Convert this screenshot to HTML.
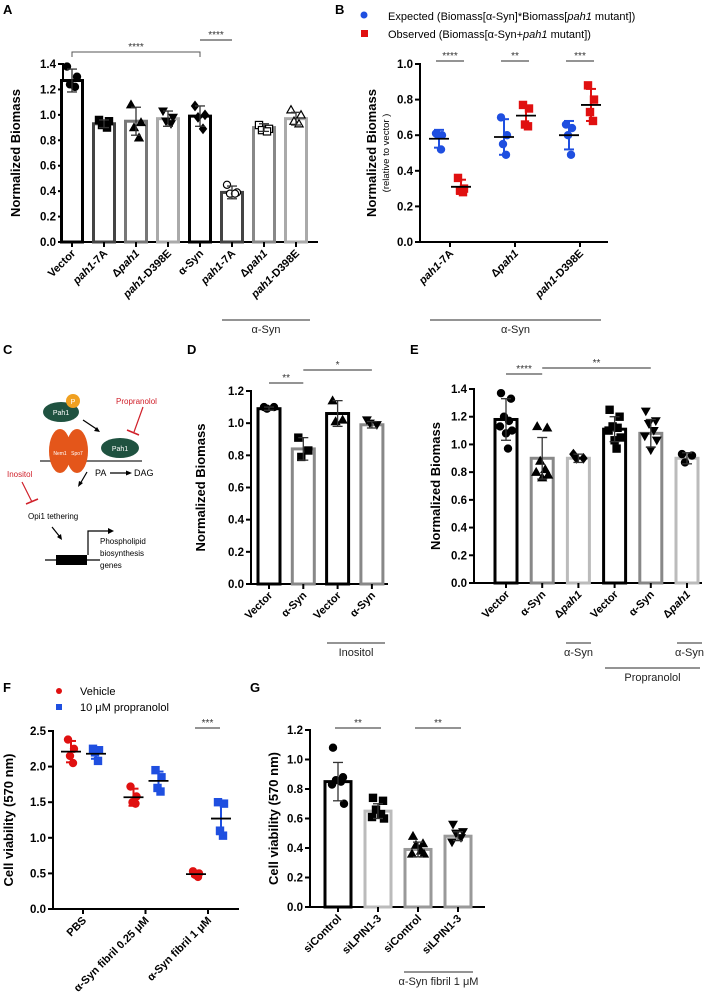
<!DOCTYPE html>
<html><head><meta charset="utf-8">
<style>
html,body{margin:0;padding:0;background:#fff;}
svg{display:block;font-family:"Liberation Sans",Arial,sans-serif;}
.lab{font-weight:bold;font-size:13px;}
.tick{font-weight:bold;font-size:11.5px;}
.ytitle{font-weight:bold;font-size:13px;}
.xl{font-weight:bold;font-size:11px;}
.grp{font-size:11px;fill:#222;}
.sig{font-size:10px;fill:#333;}
</style></head>
<body>
<svg id="fig" width="714" height="1005" viewBox="0 0 714 1005"></svg>
<script>
// ===== Panel A data =====
const aCats=["Vector","pah1-7A","Δpah1","pah1-D398E","α-Syn","pah1-7A","Δpah1","pah1-D398E"];
const aMeans=[1.27,0.93,0.95,0.97,0.99,0.39,0.90,0.97];
const aSds=[0.09,0.03,0.11,0.06,0.08,0.05,0.03,0.05];
const aPts=[[1.38,1.30,1.24,1.22],[0.96,0.95,0.92,0.90],[1.08,0.94,0.90,0.82],[1.03,0.98,0.95,0.93],[1.07,1.00,0.98,0.89],[0.45,0.39,0.38,0.38],[0.92,0.89,0.88,0.87],[1.04,1.00,0.95,0.93]];
const aTicks=[0,0.2,0.4,0.6,0.8,1.0,1.2,1.4];
// ===== Panel B data =====
const bCats=["pah1-7A","Δpah1","pah1-D398E"];
const bExpMean=[0.58,0.59,0.60];
const bExpSd=[0.05,0.10,0.08];
const bExpPts=[[0.61,0.60,0.60,0.52],[0.70,0.60,0.55,0.49],[0.66,0.64,0.60,0.49]];
const bObsMean=[0.31,0.71,0.77];
const bObsSd=[0.04,0.05,0.09];
const bObsPts=[[0.36,0.30,0.29,0.28],[0.77,0.75,0.66,0.65],[0.88,0.80,0.73,0.68]];
const bTicks=[0,0.2,0.4,0.6,0.8,1.0];
// ===== Panel D data =====
const dCats=["Vector","α-Syn","Vector","α-Syn"];
const dMeans=[1.09,0.84,1.06,0.99];
const dSds=[0.01,0.07,0.08,0.02];
const dPts=[[1.10,1.10,1.09],[0.91,0.83,0.79],[1.14,1.02,1.01],[1.02,0.99,1.00]];
const dTicks=[0,0.2,0.4,0.6,0.8,1.0,1.2];
// ===== Panel E data =====
const eCats=["Vector","α-Syn","Δpah1","Vector","α-Syn","Δpah1"];
const eMeans=[1.18,0.90,0.90,1.11,1.08,0.90];
const eSds=[0.15,0.15,0.03,0.09,0.10,0.04];
const ePts=[[1.37,1.33,1.20,1.17,1.13,1.10,1.08,0.97],[1.13,1.12,0.88,0.82,0.80,0.78,0.76],[0.93,0.90,0.90],[1.25,1.20,1.13,1.12,1.10,1.05,1.03,0.97],[1.24,1.17,1.15,1.10,1.06,1.03,0.96],[0.93,0.92,0.87]];
const eTicks=[0,0.2,0.4,0.6,0.8,1.0,1.2,1.4];
// ===== Panel F data =====
const fCats=["PBS","α-Syn fibril 0.25 μM","α-Syn fibril 1 μM"];
const fVehMean=[2.21,1.57,0.49];
const fVehSd=[0.15,0.12,0.03];
const fVehPts=[[2.38,2.25,2.15,2.05],[1.72,1.58,1.50,1.48],[0.53,0.50,0.48,0.45]];
const fProMean=[2.18,1.80,1.27];
const fProSd=[0.07,0.13,0.22];
const fProPts=[[2.25,2.23,2.20,2.08],[1.95,1.85,1.70,1.65],[1.50,1.48,1.10,1.03]];
const fTicks=[0,0.5,1.0,1.5,2.0,2.5];
// ===== Panel G data =====
const gCats=["siControl","siLPIN1-3","siControl","siLPIN1-3"];
const gMeans=[0.85,0.65,0.39,0.48];
const gSds=[0.13,0.05,0.05,0.03];
const gPts=[[1.08,0.88,0.86,0.85,0.83,0.70],[0.74,0.72,0.66,0.63,0.61,0.60],[0.48,0.43,0.42,0.38,0.36,0.36],[0.56,0.51,0.50,0.47,0.44]];
const gTicks=[0,0.2,0.4,0.6,0.8,1.0,1.2];

const NS="http://www.w3.org/2000/svg";
const svg=document.getElementById('fig');
function mk(tag,attrs,parent,txt){const e=document.createElementNS(NS,tag);for(const k in attrs)e.setAttribute(k,attrs[k]);if(txt!==undefined)e.textContent=txt;(parent||svg).appendChild(e);return e;}
function grp(name){const g=mk('g',{});


return g;}

function marker(g,shape,x,y,color){
  const s=3.6;let e;
  const fill=shape.startsWith('open')?'#fff':color;
  if(shape==='circle'||shape==='open-circle') e=mk('circle',{cx:x,cy:y,r:s,fill:fill,stroke:color,'stroke-width':1.2},g);
  else if(shape==='square'||shape==='open-square') e=mk('rect',{x:x-s,y:y-s,width:2*s,height:2*s,fill:fill,stroke:color,'stroke-width':1.2},g);
  else if(shape==='up'||shape==='open-up') e=mk('polygon',{points:`${x},${y-s-0.5} ${x-s-0.5},${y+s-0.5} ${x+s+0.5},${y+s-0.5}`,fill:fill,stroke:color,'stroke-width':1.2},g);
  else if(shape==='down') e=mk('polygon',{points:`${x},${y+s+0.5} ${x-s-0.5},${y-s+0.5} ${x+s+0.5},${y-s+0.5}`,fill:fill,stroke:color,'stroke-width':1},g);
  else if(shape==='diamond') e=mk('polygon',{points:`${x},${y-s-1} ${x-s},${y} ${x},${y+s+1} ${x+s},${y}`,fill:fill,stroke:color,'stroke-width':1},g);
  
  
}
const jit=[-5,5,-2,3,-6,6,0,2];

function axes(g,ax){
  const yS=v=>ax.y0-v/ax.max*(ax.y0-ax.yTop);
  mk('line',{x1:ax.x0,y1:ax.yTop-1,x2:ax.x0,y2:ax.y0+1,stroke:'#000','stroke-width':2},g);
  mk('line',{x1:ax.x0-1,y1:ax.y0,x2:ax.xEnd,y2:ax.y0,stroke:'#000','stroke-width':2},g);
  ax.ticks.forEach(t=>{const y=yS(t);
    mk('line',{x1:ax.x0-5,y1:y,x2:ax.x0,y2:y,stroke:'#000','stroke-width':2},g);
    const tl=mk('text',{x:ax.x0-7,y:y+4,'text-anchor':'end',class:'tick'},g,t.toFixed(ax.dec));
    
    
  });
  if(ax.title){
  const tt=mk('text',{x:0,y:0,'text-anchor':'middle',class:'ytitle',transform:`translate(${ax.titleX},${(ax.y0+ax.yTop)/2}) rotate(-90)`},g,ax.title);
  
  
  }
  return yS;
}
function xlabels(g,ax,cats,xs,italic){
  cats.forEach((c,i)=>{
    mk('line',{x1:xs[i],y1:ax.y0,x2:xs[i],y2:ax.y0+5,stroke:'#000','stroke-width':2},g);
    const t=mk('text',{x:0,y:0,'text-anchor':'end',class:'xl',transform:`translate(${xs[i]+4},${ax.y0+12}) rotate(-45)`},g);
    if(italic&&italic[i]){
      const m=c.match(/^(Δ?)(pah1)(.*)$/);
      mk('tspan',{},t,m[1]);mk('tspan',{'font-style':'italic'},t,m[2]);mk('tspan',{},t,m[3]);
    } else t.textContent=c;
    
    
  });
}
function barchart(g,ax,cats,means,sds,pts,colors,shapes,italic){
  const yS=axes(g,ax);
  const xs=cats.map((c,i)=>ax.c0+i*ax.step);
  cats.forEach((c,i)=>{
    const x=xs[i],bw=ax.bw;
    const b=mk('rect',{x:x-bw/2,y:yS(means[i]),width:bw,height:ax.y0-yS(means[i]),fill:'#fff',stroke:colors[i],'stroke-width':3},g);
    
    
    pts[i].forEach((p,j)=>marker(g,shapes[i],x+jit[j%jit.length],yS(p),'#000'));
    const ec='#333';
    const yh=yS(means[i]+sds[i]),yl=yS(means[i]-sds[i]);
    mk('line',{x1:x,y1:yh,x2:x,y2:yl,stroke:ec,'stroke-width':1.3},g);
    mk('line',{x1:x-5,y1:yh,x2:x+5,y2:yh,stroke:ec,'stroke-width':1.3},g);
    mk('line',{x1:x-5,y1:yl,x2:x+5,y2:yl,stroke:ec,'stroke-width':1.3},g);
  });
  xlabels(g,ax,cats,xs,italic);
  return xs;
}
function scatter(g,ax,cats,sets,offs){
  const yS=axes(g,ax);
  const xs=cats.map((c,i)=>ax.c0+i*ax.step);
  sets.forEach((s,k)=>{
    cats.forEach((c,i)=>{
      const x=xs[i]+offs[k];
      s.pts[i].forEach((p,j)=>marker(g,s.shape,x+[-3,3,-1,2][j%4],yS(p),s.color));
      const yh=yS(s.mean[i]+s.sd[i]),yl=yS(s.mean[i]-s.sd[i]),ym=yS(s.mean[i]);
      mk('line',{x1:x,y1:yh,x2:x,y2:yl,stroke:s.color,'stroke-width':2},g);
      mk('line',{x1:x-5,y1:yh,x2:x+5,y2:yh,stroke:s.color,'stroke-width':2},g);
      mk('line',{x1:x-5,y1:yl,x2:x+5,y2:yl,stroke:s.color,'stroke-width':2},g);
      mk('line',{x1:x-10,y1:ym,x2:x+10,y2:ym,stroke:'#000','stroke-width':1.8},g);
    });
  });
  return xs;
}
function sig(g,x1,x2,y,txt,drop){
  if(drop){mk('path',{d:`M${x1},${y+drop} V${y} H${x2} V${y+drop}`,fill:'none',stroke:'#555','stroke-width':1},g);}
  else mk('line',{x1:x1,y1:y,x2:x2,y2:y,stroke:'#555','stroke-width':1.2},g);
  const t=mk('text',{x:(x1+x2)/2,y:y-2,'text-anchor':'middle',class:'sig'},g,txt);
  
  
}
function groupline(g,x1,x2,y,txt){
  mk('line',{x1:x1,y1:y,x2:x2,y2:y,stroke:'#555','stroke-width':1.2},g);
  const t=mk('text',{x:(x1+x2)/2,y:y+13,'text-anchor':'middle',class:'grp'},g,txt);
  
  
}
function panelLabel(x,y,t){const e=mk('text',{x:x,y:y,class:'lab'},svg,t);

}

// ---- A ----
panelLabel(3,14,'A');
let gA=grp('panel-a-chart');
const xsA=barchart(gA,{x0:63,y0:242,yTop:64,max:1.4,xEnd:318,c0:72,step:32,bw:21,ticks:aTicks,dec:1,title:'Normalized Biomass',titleX:20},
 aCats,aMeans,aSds,aPts,['#000','#444','#777','#aaa','#000','#444','#888','#aaa'],
 ['circle','square','up','down','diamond','open-circle','open-square','open-up'],[0,1,1,1,0,1,1,1]);
sig(gA,xsA[0],xsA[4],52,'****',5);
sig(gA,xsA[4],xsA[5],40,'****');
groupline(gA,222,310,320,'α-Syn');

// ---- B ----
panelLabel(335,14,'B');
let gB=grp('panel-b-chart');
const lg=grp('panel-b-legend');
mk('circle',{cx:364,cy:15,r:3.5,fill:'#1f4fe0'},lg);
mk('text',{x:388,y:20,'font-size':'11px'},lg).innerHTML='Expected (Biomass[α-Syn]*Biomass[<tspan font-style="italic">pah1</tspan> mutant])';
mk('rect',{x:361,y:30,width:7,height:7,fill:'#e01010'},lg);
mk('text',{x:388,y:38,'font-size':'11px'},lg).innerHTML='Observed (Biomass[α-Syn+<tspan font-style="italic">pah1</tspan> mutant])';
const xsB=scatter(gB,{x0:420,y0:242,yTop:64,max:1.0,xEnd:608,c0:450,step:65,ticks:bTicks,dec:1,title:'',titleX:0},bCats,
 [{pts:bExpPts,mean:bExpMean,sd:bExpSd,color:'#1f4fe0',shape:'circle'},{pts:bObsPts,mean:bObsMean,sd:bObsSd,color:'#e01010',shape:'square'}],[-11,11]);
const bt=mk('text',{x:0,y:0,'text-anchor':'middle',class:'ytitle',transform:'translate(376,153) rotate(-90)'},gB,'Normalized Biomass');


const bt2=mk('text',{x:0,y:0,'text-anchor':'middle','font-size':'9.5px',transform:'translate(389,153) rotate(-90)'},gB,'(relative to vector )');


xlabels(gB,{y0:242},bCats,xsB,[1,1,1]);
const bSig=['****','**','***'];
xsB.forEach((x,i)=>sig(gB,x-14,x+14,61,bSig[i]));
groupline(gB,430,601,320,'α-Syn');

// ---- C schematic ----
panelLabel(3,354,'C');
const gC=grp('panel-c-schematic');
mk('line',{x1:40,y1:461,x2:142,y2:461,stroke:'#777','stroke-width':2},gC);
mk('ellipse',{cx:60,cy:451,rx:11,ry:22,fill:'#e4561a'},gC);
mk('ellipse',{cx:77,cy:451,rx:11,ry:22,fill:'#e4561a'},gC);
mk('text',{x:60,y:455,'font-size':'5px',fill:'#fff','text-anchor':'middle'},gC,'Nem1');
mk('text',{x:77,y:455,'font-size':'5px',fill:'#fff','text-anchor':'middle'},gC,'Spo7');
mk('ellipse',{cx:61,cy:412,rx:18,ry:10,fill:'#1f5240'},gC);
mk('circle',{cx:73,cy:401,r:7,fill:'#f0a020'},gC);
mk('text',{x:73,y:404,'font-size':'7px',fill:'#fff','text-anchor':'middle'},gC,'P');
mk('text',{x:61,y:415,'font-size':'7px',fill:'#fff','text-anchor':'middle'},gC,'Pah1');
mk('line',{x1:83,y1:420,x2:98,y2:430,stroke:'#000','stroke-width':1.2},gC);
mk('polygon',{points:'100,432 94,431 97,427'},gC);
mk('ellipse',{cx:120,cy:448,rx:19,ry:10,fill:'#1f5240'},gC);
mk('text',{x:120,y:451,'font-size':'7px',fill:'#fff','text-anchor':'middle'},gC,'Pah1');
mk('text',{x:116,y:404,'font-size':'8px',fill:'#d0202a'},gC,'Propranolol');
mk('line',{x1:143,y1:407,x2:134,y2:432,stroke:'#d0202a','stroke-width':1.2},gC);
mk('line',{x1:127,y1:430,x2:139,y2:435,stroke:'#d0202a','stroke-width':1.5},gC);
mk('text',{x:95,y:476,'font-size':'9px'},gC,'PA');
mk('line',{x1:110,y1:473,x2:128,y2:473,stroke:'#000','stroke-width':1.2},gC);
mk('polygon',{points:'132,473 126,470.5 126,475.5'},gC);
mk('text',{x:134,y:476,'font-size':'9px'},gC,'DAG');
mk('text',{x:7,y:477,'font-size':'8px',fill:'#d0202a'},gC,'Inositol');
mk('line',{x1:22,y1:482,x2:32,y2:502,stroke:'#d0202a','stroke-width':1.2},gC);
mk('line',{x1:26,y1:504,x2:38,y2:499,stroke:'#d0202a','stroke-width':1.5},gC);
mk('line',{x1:87,y1:472,x2:80,y2:484,stroke:'#000','stroke-width':1.2},gC);
mk('polygon',{points:'78,487 79,481 83,483'},gC);
mk('text',{x:28,y:519,'font-size':'8px'},gC,'Opi1 tethering');
mk('line',{x1:52,y1:527,x2:60,y2:537,stroke:'#000','stroke-width':1.2},gC);
mk('polygon',{points:'62,540 57,537 61,534'},gC);
mk('line',{x1:45,y1:560,x2:100,y2:560,stroke:'#000','stroke-width':1.2},gC);
mk('rect',{x:56,y:555,width:31,height:10,fill:'#000'},gC);
mk('path',{d:'M88,555 V531 H110',fill:'none',stroke:'#000','stroke-width':1.2},gC);
mk('polygon',{points:'114,531 108,528 108,534'},gC);
mk('text',{x:100,y:544,'font-size':'8px'},gC,'Phospholipid');
mk('text',{x:100,y:556,'font-size':'8px'},gC,'biosynthesis');
mk('text',{x:100,y:568,'font-size':'8px'},gC,'genes');

// ---- D ----
panelLabel(187,354,'D');
let gD=grp('panel-d-chart');
const xsD=barchart(gD,{x0:251,y0:584,yTop:391,max:1.2,xEnd:388,c0:269,step:34.3,bw:22,ticks:dTicks,dec:1,title:'Normalized Biomass',titleX:205},
 dCats,dMeans,dSds,dPts,['#000','#888','#000','#888'],['circle','square','up','down']);
sig(gD,xsD[0],xsD[1],383,'**');
sig(gD,xsD[1],xsD[3],370,'*');
groupline(gD,327,385,643,'Inositol');

// ---- E ----
panelLabel(410,354,'E');
let gE=grp('panel-e-chart');
const xsE=barchart(gE,{x0:474,y0:583,yTop:389,max:1.4,xEnd:702,c0:506,step:36.2,bw:22,ticks:eTicks,dec:1,title:'Normalized Biomass',titleX:440},
 eCats,eMeans,eSds,ePts,['#000','#888','#bbb','#000','#888','#bbb'],['circle','up','diamond','square','down','circle'],[0,0,1,0,0,1]);
sig(gE,xsE[0],xsE[1],374,'****');
sig(gE,xsE[1],xsE[4],368,'**');
groupline(gE,566,591,643,'α-Syn');
groupline(gE,677,702,643,'α-Syn');
groupline(gE,605,700,668,'Propranolol');

// ---- F ----
panelLabel(3,692,'F');
let gF=grp('panel-f-chart');
const lf=grp('panel-f-legend');
mk('circle',{cx:59,cy:691,r:3,fill:'#e01010'},lf);
mk('text',{x:80,y:695,'font-size':'11px'},lf,'Vehicle');
mk('rect',{x:56,y:704,width:6,height:6,fill:'#1f4fe0'},lf);
mk('text',{x:80,y:711,'font-size':'11px'},lf,'10 μM propranolol');
const xsF=scatter(gF,{x0:53,y0:909,yTop:731,max:2.5,xEnd:239,c0:83,step:62.5,ticks:fTicks,dec:1,title:'Cell viability (570 nm)',titleX:13},fCats,
 [{pts:fVehPts,mean:fVehMean,sd:fVehSd,color:'#e01010',shape:'circle'},{pts:fProPts,mean:fProMean,sd:fProSd,color:'#1f4fe0',shape:'square'}],[-12,13]);
xlabels(gF,{y0:909},fCats,xsF);
sig(gF,195,220,728,'***');

// ---- G ----
panelLabel(250,692,'G');
let gG=grp('panel-g-chart');
const xsG=barchart(gG,{x0:310,y0:907,yTop:730,max:1.2,xEnd:485,c0:338,step:40,bw:26,ticks:gTicks,dec:1,title:'Cell viability (570 nm)',titleX:278},
 gCats,gMeans,gSds,gPts,['#000','#bbb','#999','#999'],['circle','square','up','down']);
sig(gG,xsG[0]-3,xsG[1]+3,728,'**');
sig(gG,xsG[2]-3,xsG[3]+3,728,'**');
groupline(gG,404,473,972,'α-Syn fibril 1 μM');
</script>
</body></html>
